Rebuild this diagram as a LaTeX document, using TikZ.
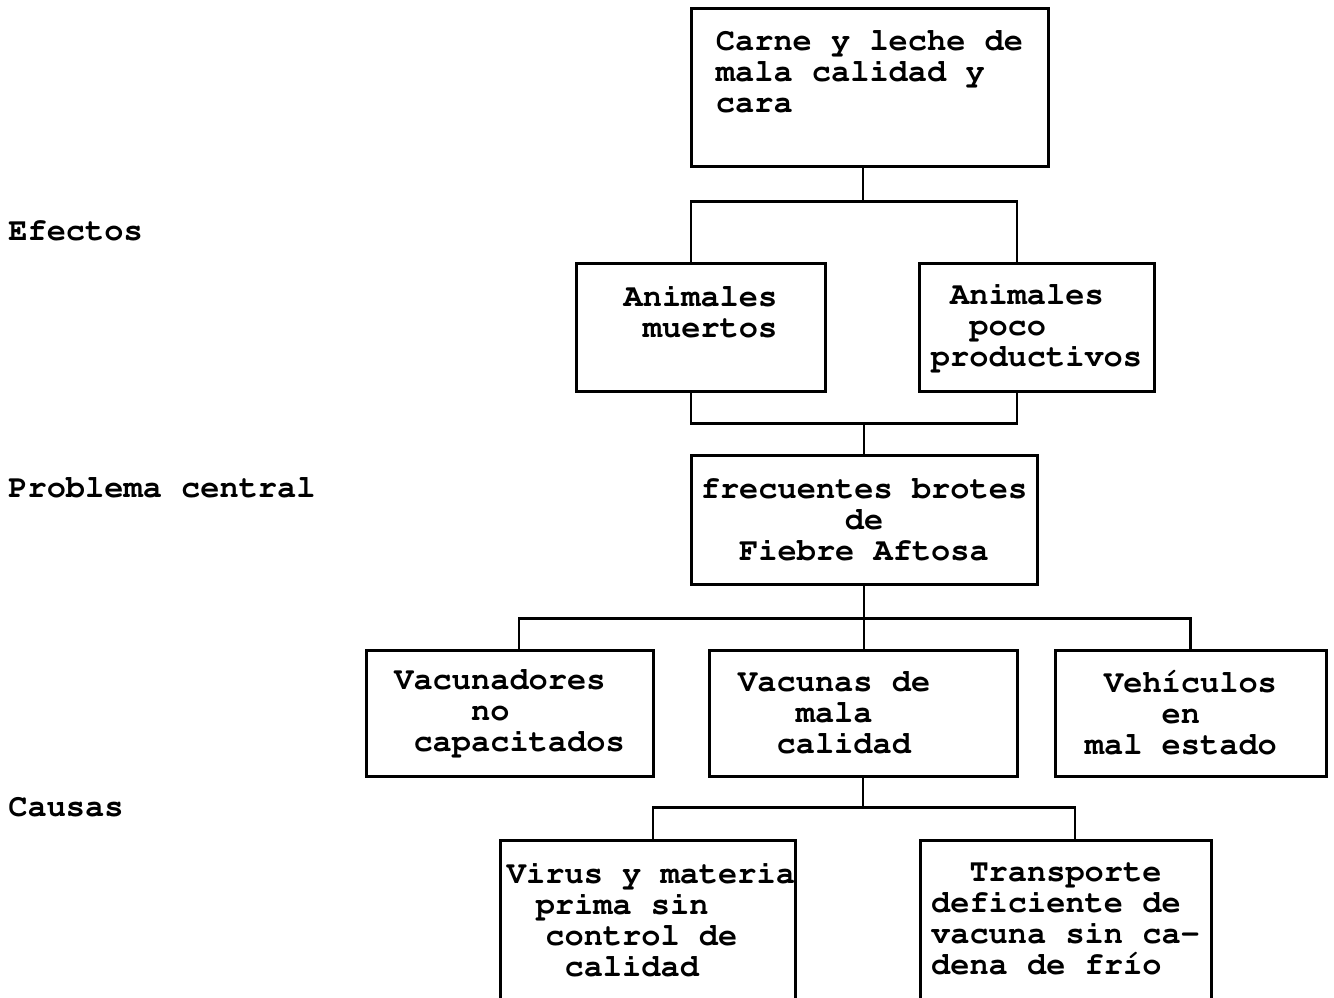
\documentclass[tikz,border=0pt]{standalone}
\usepackage[T1]{fontenc}
\usepackage{courier}
\usetikzlibrary{positioning}
\newlength{\chw}
\setlength{\chw}{9.6pt}
\newcommand{\chgap}[1]{\hspace*{#1\chw}}

\begin{document}
\begin{tikzpicture}[x=0.5pt, y=-0.5pt,
    box/.style={draw, line width=1.5pt, inner sep=0pt, align=left, font=\ttfamily\bfseries\fontsize{16pt}{15.5pt}\selectfont},
    side/.style={anchor=base west, inner sep=0pt, font=\ttfamily\bfseries\fontsize{16pt}{15.5pt}\selectfont},
    link/.style={line width=1.4pt}]

    \useasboundingbox (0,0) rectangle (1334,997);
    \clip (0,0) rectangle (1334,997);

    % Row labels
    \node[side] (efectos) at (8,240) {Efectos};
    \node[side] (problema) at (8,497) {Problema central};
    \node[side] (causas) at (8,816) {Causas};

    % Effects
    \node[box, minimum width=178.5pt, minimum height=79pt] (carne) at (869.5,87) {Carne y leche de\\mala calidad y\\cara\\\mbox{}};
    \node[box, minimum width=124.5pt, minimum height=64pt] (muertos) at (700.5,327) {Animales\\\chgap{1}muertos\\\mbox{}};
    \node[box, minimum width=117.5pt, minimum height=64pt] (poco) at (1036.5,327) {\chgap{1}Animales\\\chgap{2}poco\\productivos};

    % Central problem
    \node[box, align=center, minimum width=173pt, minimum height=64.5pt] (brotes) at (864,519.5) {frecuentes brotes\\de\\Fiebre Aftosa};

    % Causes
    \node[box, minimum width=143.5pt, minimum height=63pt] (vacunadores) at (509.5,713) {Vacunadores\\\chgap{4}no\\\chgap{1}capacitados};
    \node[box, minimum width=154pt, minimum height=63pt] (vacunas) at (863,713) {Vacunas de\phantom{mmm}\\\chgap{3}mala\\\chgap{2}calidad};
    \node[box, minimum width=135.5pt, minimum height=63pt] (vehiculos) at (1190.5,713) {\chgap{1}Veh\'{\i}culos\\\chgap{4}en\\mal estado\phantom{m}};

    % Sub-causes
    \node[box, minimum width=147.5pt, minimum height=95pt] (virus) at (647.5,935) {\chgap{0.36}Virus y materia\\\chgap{1.86}prima sin\\\chgap{2.36}control de\\\chgap{3.36}calidad\\\mbox{}};
    \node[box, minimum width=145.5pt, minimum height=95pt] (transporte) at (1065.5,935) {\chgap{2}Transporte\\deficiente de\\vacuna sin ca-\\dena de fr\'{\i}o\\\mbox{}};

    % Connectors
    \draw[link] ([xshift=-3.25pt]carne.south) -- ++(0,-17pt) coordinate (efa);
    \draw[link] ([xshift=-4.75pt]muertos.north) |- (efa) -| ([xshift=-9.75pt]poco.north);
    \draw[link] (brotes.north) -- ++(0,15pt) coordinate (efb);
    \draw[link] ([xshift=-4.75pt]muertos.south) |- (efb) -| ([xshift=-9.75pt]poco.south);
    \draw[link] (brotes.south) -- ++(0,-16.5pt) coordinate (caa);
    \draw[link] ([xshift=4.75pt]vacunadores.north) |- (caa) -| (vehiculos.north);
    \draw[link] (caa) -- (caa |- vacunas.north);
    \draw[link] (vacunas.south) -- ++(0,-15pt) coordinate (cab);
    \draw[link] ([xshift=2.75pt]virus.north) |- (cab) -| ([xshift=4.75pt]transporte.north);
\end{tikzpicture}
\end{document}
